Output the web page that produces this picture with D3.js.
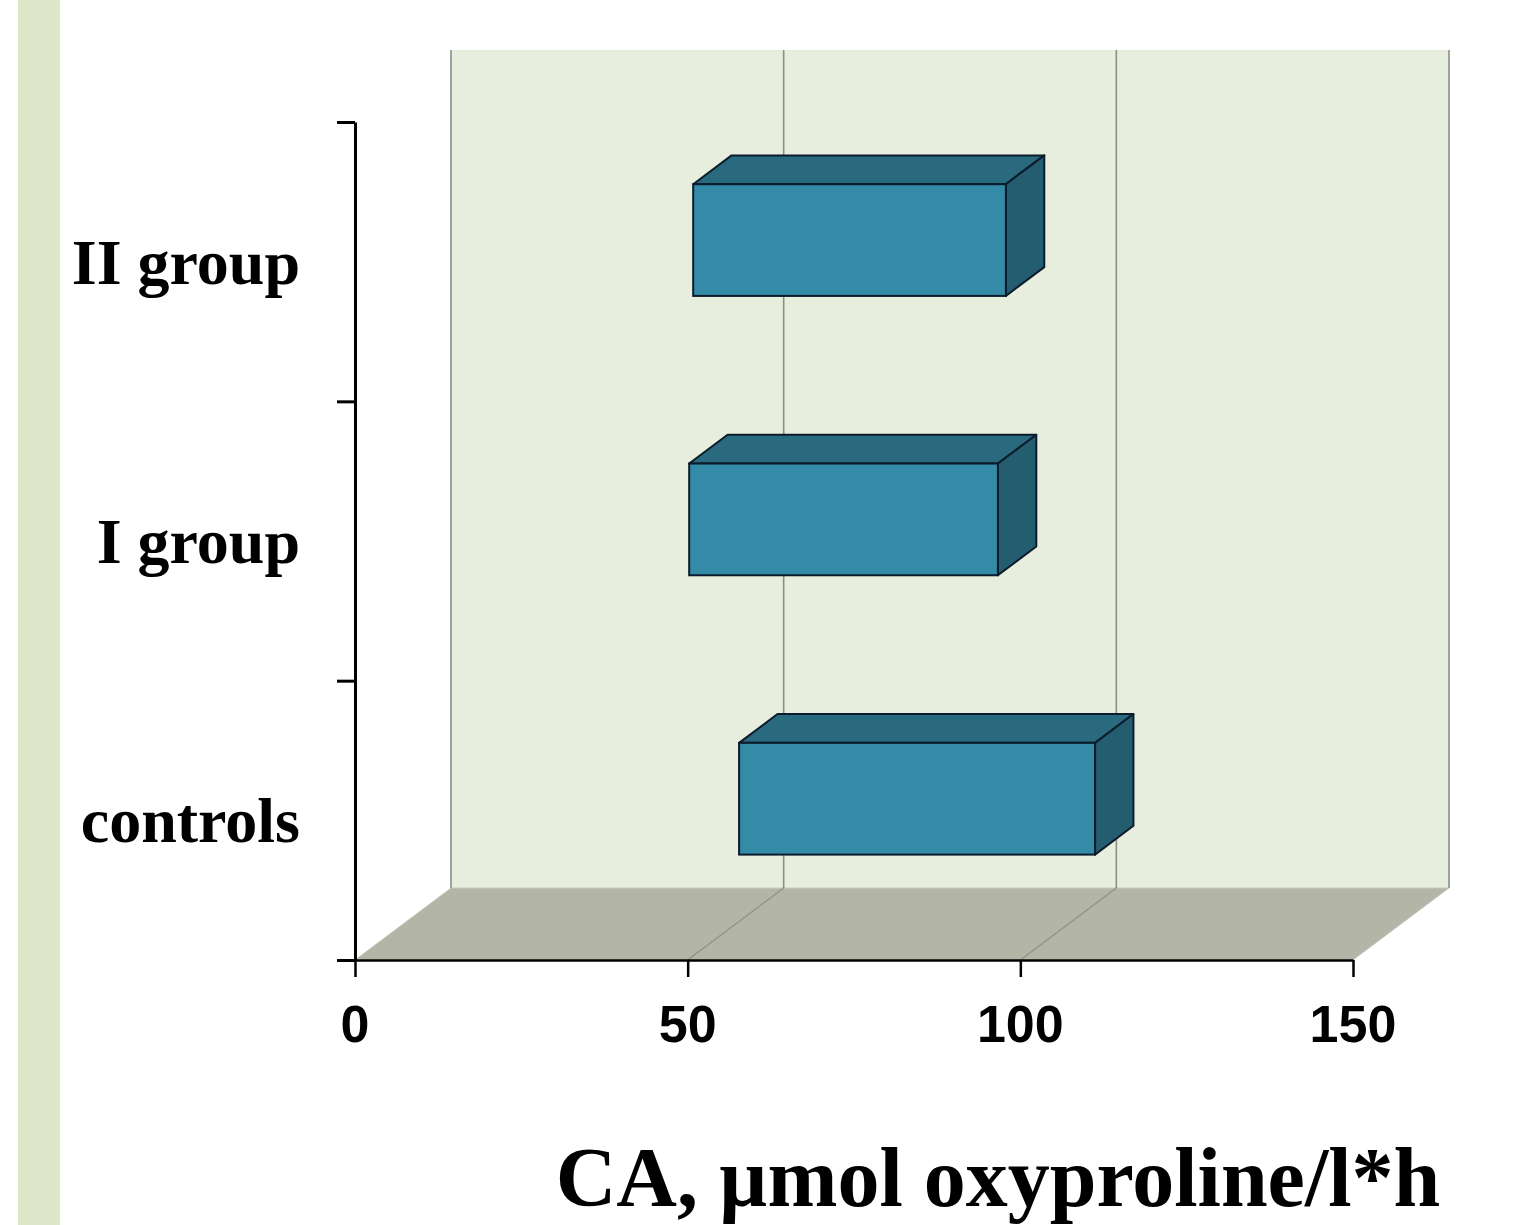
<!DOCTYPE html>
<html>
<head>
<meta charset="utf-8">
<script src="https://cdn.jsdelivr.net/npm/d3@7"></script>
<style>
  html, body { margin: 0; padding: 0; background: #fff; }
  svg { display: block; }
  .cat { font-family: "Liberation Serif", "Times New Roman", serif; font-weight: bold; font-size: 64px; fill: #000; }
  .tick-label { font-family: "Liberation Sans", Arial, sans-serif; font-weight: bold; font-size: 52px; fill: #000; }
  .title { font-family: "Liberation Serif", "Times New Roman", serif; font-weight: bold; font-size: 84px; fill: #000; }
</style>
</head>
<body>
<div id="chart-container"></div>
<script>
// data, top to bottom as drawn
const categories = ['II group', 'I group', 'controls'];
const barStart = [46.5, 45.9, 53.4];
const barEnd = [93.5, 92.3, 106.9];
const xTicks = [0, 50, 100, 150];
const axisTitle = 'CA, \u00b5mol oxyproline/l*h';

const width = 1526, height = 1225;
const plot = { left: 355, right: 1353, top: 122, bottom: 960 };
// 3d depth offset of the back wall
const depth = { dx: 96, dy: -72 };
// bars sit between these depth fractions
const z0 = 0.3, z1 = 0.7;

const svg = d3.select('#chart-container')
  .append('svg')
  .attr('width', width)
  .attr('height', height);

// left decorative strip
svg.append('rect')
  .attr('x', 18).attr('y', 0)
  .attr('width', 42).attr('height', height)
  .attr('fill', '#dde6c8');

const xScale = d3.scaleLinear()
  .domain([0, 150])
  .range([plot.left, plot.right]);

const yScale = d3.scaleBand()
  .domain(categories)
  .range([plot.top, plot.bottom])
  .paddingInner(0);

const yEdge = d3.scaleLinear()
  .domain([0, categories.length])
  .range([plot.bottom, plot.top]);

const back = (x, y, z = 1) => [x + depth.dx * z, y + depth.dy * z];

// back wall
svg.append('rect')
  .attr('x', plot.left + depth.dx)
  .attr('y', plot.top + depth.dy)
  .attr('width', plot.right - plot.left)
  .attr('height', plot.bottom - plot.top)
  .attr('fill', '#e8eedd');

// floor
const floorPts = [
  [xScale(0), plot.bottom],
  [xScale(150), plot.bottom],
  back(xScale(150), plot.bottom),
  back(xScale(0), plot.bottom)
];
svg.append('path')
  .attr('d', d3.line()(floorPts) + 'Z')
  .attr('fill', '#b3b5a7')
  .attr('stroke', '#c9cbbf')
  .attr('stroke-width', 1);

// gridlines on wall and floor
const grid = svg.append('g').attr('class', 'grid');
xTicks.forEach(t => {
  const x = xScale(t);
  const b = back(x, plot.bottom);
  grid.append('line')
    .attr('x1', b[0]).attr('x2', b[0])
    .attr('y1', plot.top + depth.dy).attr('y2', b[1])
    .attr('stroke', '#8c8e84')
    .attr('stroke-width', 1.6);
  if (t > 0 && t < 150) {
    grid.append('line')
      .attr('x1', x).attr('y1', plot.bottom)
      .attr('x2', b[0]).attr('y2', b[1])
      .attr('stroke', '#8f9186')
      .attr('stroke-width', 1.2);
  }
});

// bars
const bh = yScale.bandwidth() * 0.4;
const bars = svg.append('g').attr('class', 'bars');
categories.forEach((c, i) => {
  const cy = yScale(c) + yScale.bandwidth() / 2;
  const [fx0, fy] = back(xScale(barStart[i]), cy - bh / 2, z0);
  const fx1 = fx0 + (xScale(barEnd[i]) - xScale(barStart[i]));
  const ox = depth.dx * (z1 - z0), oy = depth.dy * (z1 - z0);
  const g = bars.append('g');
  const stroke = '#0c1c2c';
  // top
  g.append('path')
    .attr('d', d3.line()([[fx0, fy], [fx1, fy], [fx1 + ox, fy + oy], [fx0 + ox, fy + oy]]) + 'Z')
    .attr('fill', '#2a6a7f')
    .attr('stroke', stroke).attr('stroke-width', 2).attr('stroke-linejoin', 'round');
  // side
  g.append('path')
    .attr('d', d3.line()([[fx1, fy], [fx1 + ox, fy + oy], [fx1 + ox, fy + oy + bh], [fx1, fy + bh]]) + 'Z')
    .attr('fill', '#245d70')
    .attr('stroke', stroke).attr('stroke-width', 2).attr('stroke-linejoin', 'round');
  // front
  g.append('rect')
    .attr('x', fx0).attr('y', fy)
    .attr('width', fx1 - fx0).attr('height', bh)
    .attr('fill', '#338ba7')
    .attr('stroke', stroke).attr('stroke-width', 2);
});

// y axis (ticks at band edges)
svg.append('g')
  .attr('transform', `translate(${plot.left},0)`)
  .call(d3.axisLeft(yEdge).ticks(categories.length).tickSize(18).tickSizeOuter(0).tickFormat(''))
  .call(g => g.selectAll('path, line').attr('stroke', '#000').attr('stroke-width', 3));

// category labels
svg.append('g')
  .selectAll('text')
  .data(categories)
  .join('text')
  .attr('class', 'cat')
  .attr('x', 300)
  .attr('y', d => yScale(d) + yScale.bandwidth() / 2 + 22)
  .attr('text-anchor', 'end')
  .text(d => d);

// x axis
const xAxis = svg.append('g')
  .attr('transform', `translate(0,${plot.bottom})`)
  .call(d3.axisBottom(xScale).tickValues(xTicks).tickSize(17).tickSizeOuter(0).tickFormat(''));
xAxis.selectAll('path, line').attr('stroke', '#000').attr('stroke-width', 2.5);

svg.append('g')
  .selectAll('text')
  .data(xTicks)
  .join('text')
  .attr('class', 'tick-label')
  .attr('x', d => xScale(d))
  .attr('y', 1042)
  .attr('text-anchor', 'middle')
  .text(d => d);

// axis title
svg.append('text')
  .attr('class', 'title')
  .attr('x', 998)
  .attr('y', 1206)
  .attr('text-anchor', 'middle')
  .text(axisTitle);
</script>
</body>
</html>
